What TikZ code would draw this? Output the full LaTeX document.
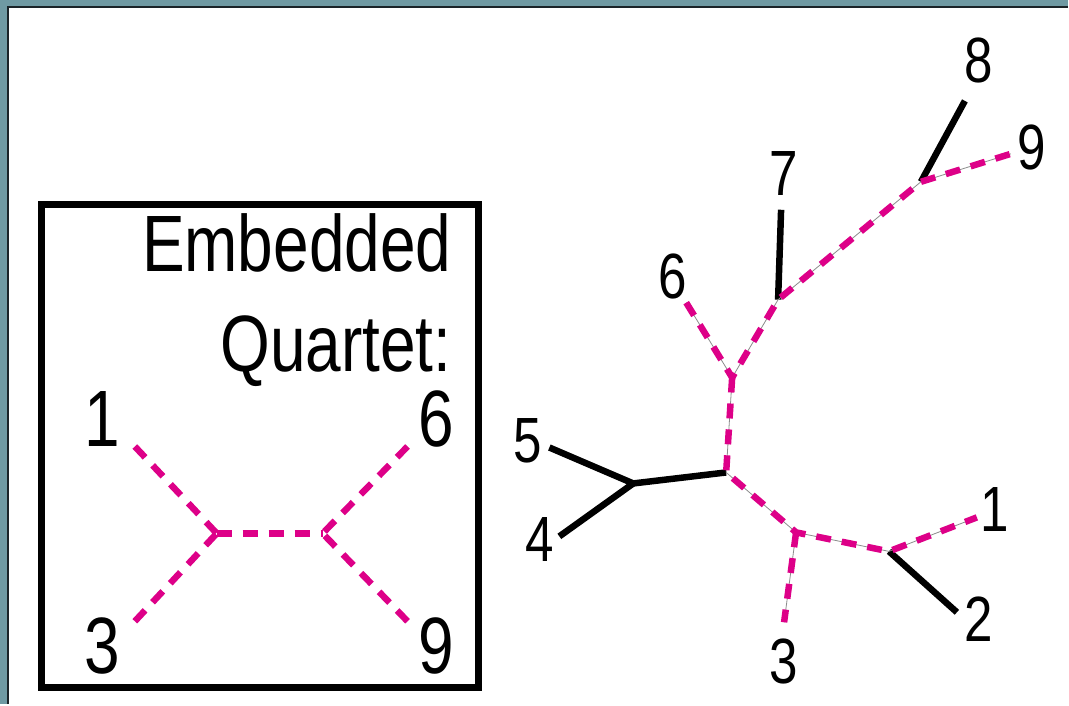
\documentclass[tikz,border=0pt]{standalone}
\usepackage{fontspec}
\setmainfont{Liberation Sans}[FakeStretch=0.8]
\usepackage{xcolor}
\usepackage{tikz}
\usetikzlibrary{positioning}
\definecolor{slidebg}{HTML}{6F9AA3}
\definecolor{slideedge}{HTML}{1A2428}
\definecolor{quartetpink}{HTML}{DD0088}

\begin{document}
\begin{tikzpicture}[x={(1pt,0)}, y={(0,-1pt)},
    treeedge/.style={line width=6.5pt, black},
    quartetedge/.style={line width=6.5pt, quartetpink, dash pattern=on 15pt off 11pt},
    underedge/.style={line width=0.8pt, black!45},
    bigtext/.style={inner sep=0pt, font=\fontsize{80}{96}\selectfont},
    leaflabel/.style={inner sep=0pt, font=\fontsize{64}{76}\selectfont}]
  % slide background
  \fill[slidebg] (0,0) rectangle (1069,705);
  \fill[white] (8,7) rectangle (1069,705);
  \draw[slideedge, line width=2.5pt] (8,705) -- (8,7) -- (1069,7);
  \useasboundingbox (0,0) rectangle (1069,705);

  % embedded quartet box
  \draw[line width=7pt] (42,205) rectangle (479,688);
  \node[bigtext, anchor=base east] (title1) at (452,272) {Embedded};
  \node[bigtext, anchor=base east] (title2) at (452,372) {Quartet:};

  \coordinate (qL) at (217,534);
  \coordinate (qR) at (323,534);
  \coordinate (q1) at (135,447);
  \coordinate (q3) at (135,622);
  \coordinate (q6) at (408,447);
  \coordinate (q9) at (408,622);
  \node[bigtext] (lq1) at (102,419) {1};
  \node[bigtext] (lq6) at (437,419) {6};
  \node[bigtext] (lq3) at (102,647) {3};
  \node[bigtext] (lq9) at (437,647) {9};
  \draw[quartetedge] (q1) -- (qL);
  \draw[quartetedge] (q3) -- (qL);
  \draw[quartetedge] (qL) -- (qR);
  \draw[quartetedge] (q6) -- (qR);
  \draw[quartetedge] (q9) -- (qR);

  % full tree
  \coordinate (tA) at (634,484);
  \coordinate (tB) at (727,473);
  \coordinate (tC) at (733,378);
  \coordinate (tD) at (779,300);
  \coordinate (tE) at (922,182);
  \coordinate (tF) at (797,533);
  \coordinate (tG) at (890,552);
  \coordinate (t1) at (978,518);
  \coordinate (t2) at (958,613);
  \coordinate (t3) at (785,623);
  \coordinate (t4) at (560,537);
  \coordinate (t5) at (550,448);
  \coordinate (t6) at (687,303);
  \coordinate (t7) at (782,210);
  \coordinate (t8) at (966,101);
  \coordinate (t9) at (1012,154);

  \node[leaflabel] (lt1) at (996,510) {1};
  \node[leaflabel] (lt2) at (980,620) {2};
  \node[leaflabel] (lt3) at (785,662) {3};
  \node[leaflabel] (lt4) at (540,540) {4};
  \node[leaflabel] (lt5) at (528,441) {5};
  \node[leaflabel] (lt6) at (673,277) {6};
  \node[leaflabel] (lt7) at (785,174) {7};
  \node[leaflabel] (lt8) at (980,61) {8};
  \node[leaflabel] (lt9) at (1033,148) {9};

  \draw[treeedge] (t5) -- (tA) -- (t4);
  \draw[treeedge] (tA) -- (tB);
  \draw[treeedge] (t7) -- (tD);
  \draw[treeedge] (t8) -- (tE);
  \draw[treeedge] (tG) -- (t2);

  \draw[underedge] (t6) -- (tC) -- (tD) -- (tE) -- (t9);
  \draw[underedge] (tC) -- (tB) -- (tF) -- (tG) -- (t1);
  \draw[underedge] (tF) -- (t3);
  \draw[quartetedge] (t6) -- (tC) -- (tD) -- (tE) -- (t9);
  \draw[quartetedge] (tC) -- (tB) -- (tF) -- (tG) -- (t1);
  \draw[quartetedge] (tF) -- (t3);
\end{tikzpicture}
\end{document}
